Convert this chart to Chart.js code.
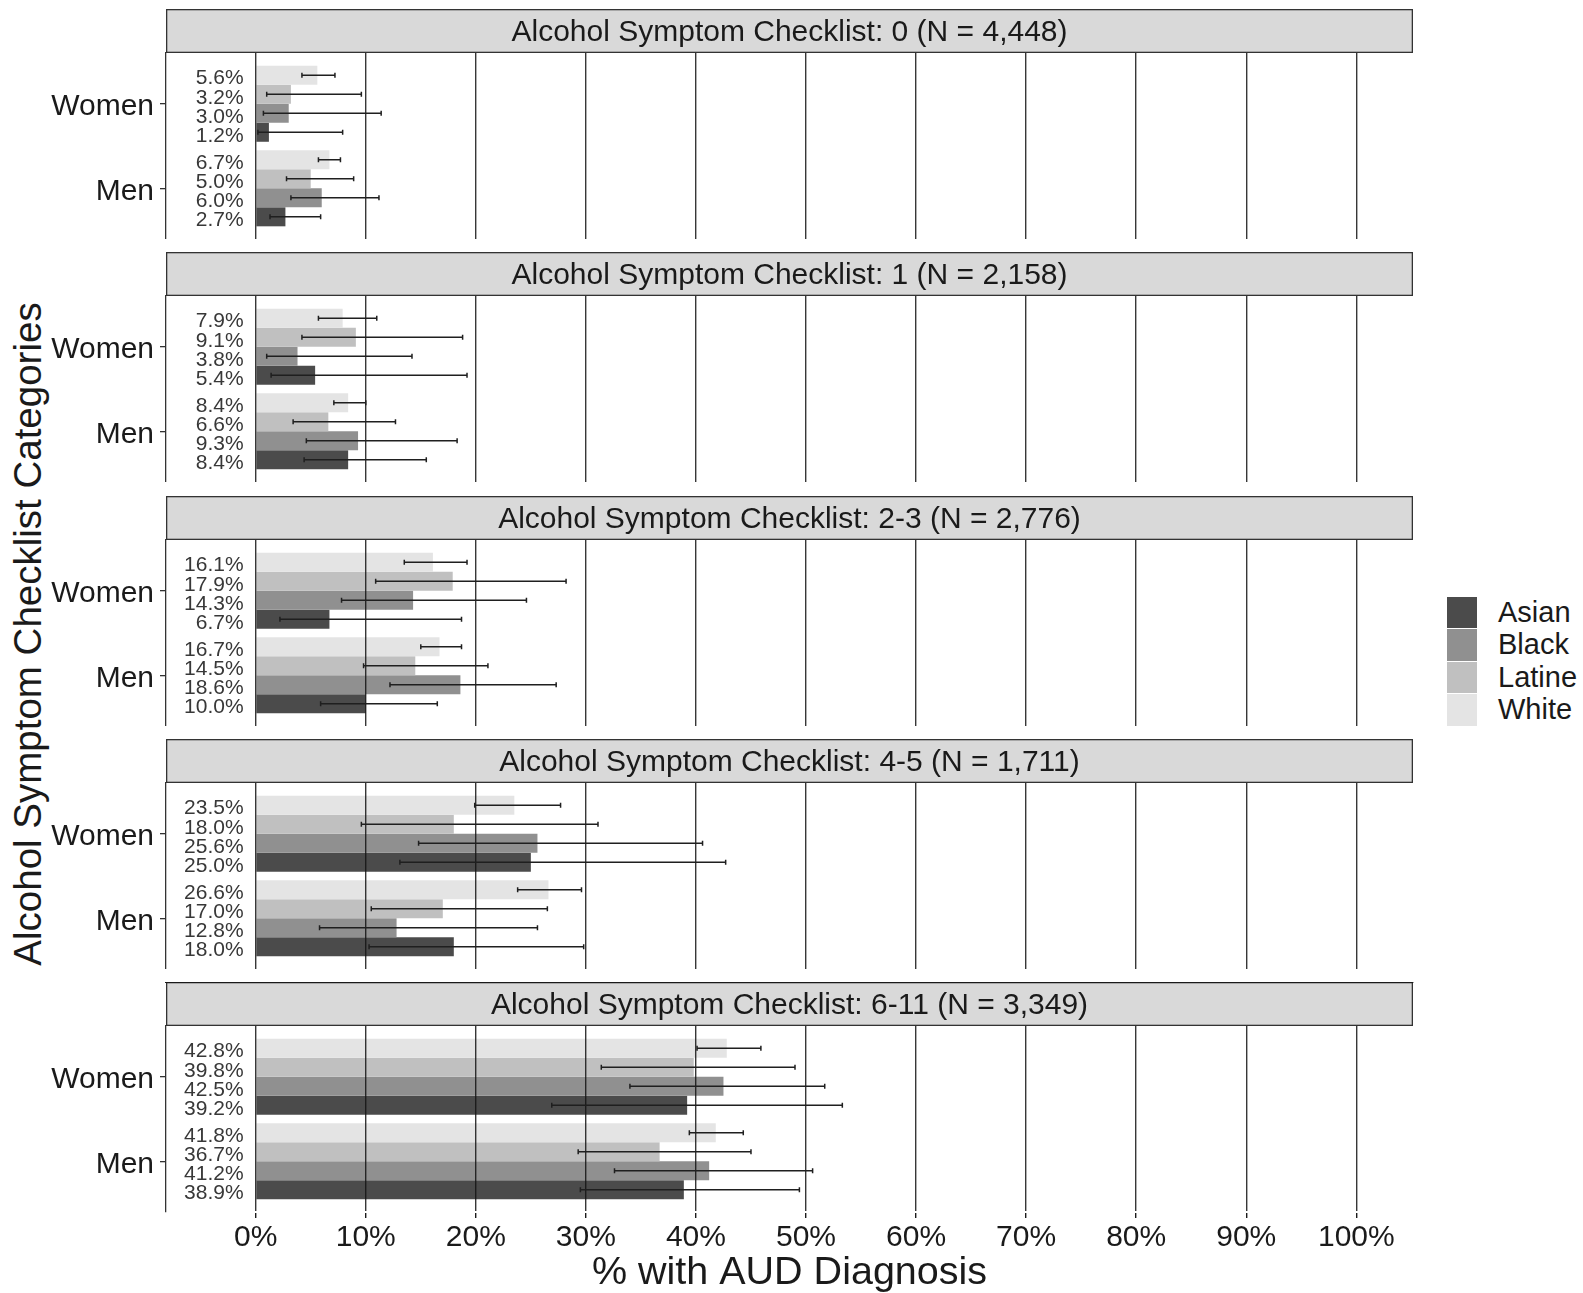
<!DOCTYPE html>
<html>
<head>
<meta charset="utf-8">
<script src="https://cdn.jsdelivr.net/npm/chart.js@4.4.1/dist/chart.umd.min.js"></script>
<style>
  body { margin: 0; background: #fff; width: 1583px; height: 1293px; position: relative; overflow: hidden;
         font-family: "Liberation Sans", Arial, sans-serif; color: #1a1a1a; }
  canvas { position: absolute; left: 0; }
  #ytitle { position: absolute; left: -372px; top: 612px; width: 800px; height: 44px; line-height: 44px;
            font-size: 38.5px; text-align: center; transform: rotate(-90deg); white-space: nowrap; }
  #legend { position: absolute; left: 1447px; top: 596px; }
  .item { height: 32.5px; display: flex; align-items: center; }
  .key { width: 30px; height: 31.5px; margin-right: 21px; }
  .lab { font-size: 29px; }
</style>
</head>
<body>
<div id="ytitle">Alcohol Symptom Checklist Categories</div>
<div id="legend"></div>
<script>
const FONT = '"Liberation Sans", Arial, sans-serif'

const panelTitles = [
  'Alcohol Symptom Checklist: 0 (N = 4,448)',
  'Alcohol Symptom Checklist: 1 (N = 2,158)',
  'Alcohol Symptom Checklist: 2-3 (N = 2,776)',
  'Alcohol Symptom Checklist: 4-5 (N = 1,711)',
  'Alcohol Symptom Checklist: 6-11 (N = 3,349)'
]
const sexGroups = ['Women', 'Men']
// top to bottom inside each group
const raceOrder = ['White', 'Latine', 'Black', 'Asian']
const raceColors = ['#e4e4e4', '#c0c0c0', '#909090', '#4b4b4b']
const xTickValues = [0, 10, 20, 30, 40, 50, 60, 70, 80, 90, 100]

// one row per panel: [Women, Men]
const whitePct  = [[5.6, 6.7], [7.9, 8.4], [16.1, 16.7], [23.5, 26.6], [42.8, 41.8]]
const whiteLow  = [[4.2, 5.7], [5.7, 7.1], [13.5, 15.0], [19.9, 23.8], [40.1, 39.4]]
const whiteHigh = [[7.2, 7.7], [11.0, 10.0], [19.2, 18.7], [27.7, 29.6], [45.9, 44.3]]

const latinePct  = [[3.2, 5.0], [9.1, 6.6], [17.9, 14.5], [18.0, 17.0], [39.8, 36.7]]
const latineLow  = [[1.0, 2.8], [4.2, 3.4], [10.9, 9.8], [9.6, 10.5], [31.4, 29.3]]
const latineHigh = [[9.6, 8.9], [18.8, 12.7], [28.2, 21.1], [31.1, 26.5], [49.0, 45.0]]

const blackPct  = [[3.0, 6.0], [3.8, 9.3], [14.3, 18.6], [25.6, 12.8], [42.5, 41.2]]
const blackLow  = [[0.7, 3.2], [1.0, 4.6], [7.8, 12.2], [14.8, 5.8], [34.0, 32.6]]
const blackHigh = [[11.4, 11.2], [14.2, 18.3], [24.6, 27.3], [40.6, 25.6], [51.7, 50.6]]

const asianPct  = [[1.2, 2.7], [5.4, 8.4], [6.7, 10.0], [25.0, 18.0], [39.2, 38.9]]
const asianLow  = [[0.2, 1.3], [1.4, 4.4], [2.2, 5.9], [13.1, 10.3], [26.9, 29.5]]
const asianHigh = [[7.9, 5.9], [19.2, 15.5], [18.7, 16.5], [42.7, 29.8], [53.3, 49.4]]

const pctByRace  = [whitePct, latinePct, blackPct, asianPct]
const lowByRace  = [whiteLow, latineLow, blackLow, asianLow]
const highByRace = [whiteHigh, latineHigh, blackHigh, asianHigh]

// grey strip behind the panel title
const stripPlugin = {
  id: 'strip',
  beforeDraw(chart) {
    const { ctx, chartArea } = chart
    const w = chartArea.right - chartArea.left
    ctx.save()
    ctx.fillStyle = '#d9d9d9'
    ctx.fillRect(chartArea.left, 0, w, chartArea.top)
    ctx.strokeStyle = '#333333'
    ctx.lineWidth = 1.3
    ctx.strokeRect(chartArea.left + 0.65, 0.65, w - 1.3, chartArea.top - 1.3)
    ctx.restore()
  }
}

// error bars + value labels left of the bars
const errorBarPlugin = {
  id: 'errorBars',
  afterDraw(chart) {
    const { ctx } = chart
    const xs = chart.scales.x
    ctx.save()
    chart.data.datasets.forEach((ds, i) => {
      chart.getDatasetMeta(i).data.forEach((bar, j) => {
        const y = bar.y
        const x1 = xs.getPixelForValue(ds.errLow[j])
        const x2 = xs.getPixelForValue(ds.errHigh[j])
        ctx.strokeStyle = '#1f1f1f'
        ctx.lineWidth = 1.5
        ctx.beginPath()
        ctx.moveTo(x1, y); ctx.lineTo(x2, y)
        ctx.moveTo(x1, y - 2.5); ctx.lineTo(x1, y + 2.5)
        ctx.moveTo(x2, y - 2.5); ctx.lineTo(x2, y + 2.5)
        ctx.stroke()

        ctx.fillStyle = '#383838'
        ctx.font = '21px ' + FONT
        ctx.textAlign = 'right'
        ctx.textBaseline = 'middle'
        ctx.fillText(ds.data[j].x.toFixed(1) + '%', xs.getPixelForValue(-1.1), y + 3.5)
      })
    })
    ctx.restore()
  }
}

const STRIP_H = 44
const PLOT_H = 186

function buildPanel(p) {
  const isLast = p === panelTitles.length - 1
  const top = Math.round(9 + 243.25 * p)
  const height = isLast ? 1293 - top : STRIP_H + PLOT_H

  const canvas = document.createElement('canvas')
  canvas.width = 1583
  canvas.height = height
  canvas.style.top = top + 'px'
  canvas.style.width = '1583px'
  canvas.style.height = height + 'px'
  document.body.appendChild(canvas)

  new Chart(canvas, {
    type: 'bar',
    data: {
      datasets: raceOrder.map((race, r) => ({
        label: race,
        data: sexGroups.map((g, gi) => ({ x: pctByRace[r][p][gi], y: gi + 1 })),
        errLow: lowByRace[r][p],
        errHigh: highByRace[r][p],
        backgroundColor: raceColors[r],
        borderWidth: 0,
        categoryPercentage: 0.9,
        barPercentage: 1
      }))
    },
    options: {
      indexAxis: 'y',
      responsive: false,
      animation: false,
      devicePixelRatio: 1,
      events: [],
      layout: { padding: { left: 0, right: 170, top: 0, bottom: 0 } },
      plugins: {
        legend: { display: false },
        tooltip: { enabled: false },
        title: {
          display: true,
          text: panelTitles[p],
          fullSize: false,
          color: '#1a1a1a',
          font: { family: FONT, size: 30, weight: 'normal', lineHeight: 1.2 },
          padding: { top: 6, bottom: 2 }
        }
      },
      scales: {
        x: {
          type: 'linear',
          min: -8.15,
          max: 105.15,
          afterBuildTicks: s => { s.ticks = xTickValues.map(v => ({ value: v })) },
          afterFit: s => { s.height = height - STRIP_H - PLOT_H; s.paddingLeft = 0; s.paddingRight = 0 },
          grid: {
            z: 1,
            color: 'rgba(20,20,20,0.85)',
            lineWidth: 1.4,
            drawTicks: isLast,
            tickLength: isLast ? 6 : 0,
            tickColor: '#1a1a1a'
          },
          border: { display: isLast, color: '#1a1a1a', width: 2 },
          ticks: {
            display: isLast,
            callback: v => v + '%',
            color: '#1a1a1a',
            font: { family: FONT, size: 30 },
            padding: 2,
            maxRotation: 0
          },
          title: {
            display: isLast,
            text: '% with AUD Diagnosis',
            color: '#1a1a1a',
            font: { family: FONT, size: 39.5, lineHeight: 1 },
            padding: { top: 0, bottom: 0 }
          }
        },
        y: {
          type: 'linear',
          min: 0.4,
          max: 2.6,
          reverse: true,
          offset: false,
          afterBuildTicks: s => { s.ticks = sexGroups.map((g, i) => ({ value: i + 1 })) },
          afterFit: s => { s.width = 166; s.paddingTop = 0; s.paddingBottom = 0 },
          ticks: {
            callback: (v, i) => sexGroups[i],
            color: '#1a1a1a',
            font: { family: FONT, size: 30 },
            padding: 6,
            labelOffset: 3
          },
          grid: { offset: false, drawOnChartArea: false, drawTicks: true, tickLength: 6, color: '#333333', lineWidth: 1.3 },
          border: { display: true, color: '#333333', width: 1.3 }
        }
      }
    },
    plugins: [stripPlugin, errorBarPlugin]
  })
}

panelTitles.forEach((t, p) => buildPanel(p))

// legend, ordered like ggplot's (Asian first)
const legend = document.getElementById('legend')
raceOrder.slice().reverse().forEach(race => {
  const item = document.createElement('div')
  item.className = 'item'
  const key = document.createElement('div')
  key.className = 'key'
  key.style.background = raceColors[raceOrder.indexOf(race)]
  const lab = document.createElement('span')
  lab.className = 'lab'
  lab.textContent = race
  item.appendChild(key)
  item.appendChild(lab)
  legend.appendChild(item)
})
</script>
</body>
</html>
